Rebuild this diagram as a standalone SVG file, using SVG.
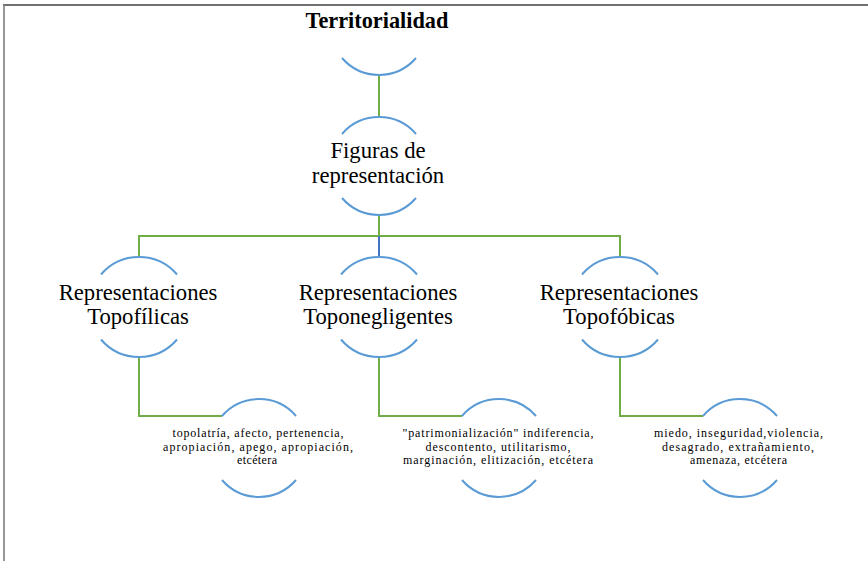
<svg xmlns="http://www.w3.org/2000/svg" width="868" height="561" viewBox="0 0 868 561">
<style>
.arc{fill:none;stroke:#5B9BD5;stroke-width:2}
.con{fill:none;stroke:#70AD47;stroke-width:2}
.t{font-family:"Liberation Serif","Times New Roman","DejaVu Serif",serif;fill:#000;text-anchor:middle}
.l2{font-size:22.7px}
.l3{font-size:12px}
</style>
<rect width="868" height="561" fill="#fff"/>
<g id="frame">
<line x1="3" y1="5" x2="868" y2="5" stroke="#404040" stroke-width="1.6"/>
<line x1="4" y1="5" x2="4" y2="561" stroke="#7f7f7f" stroke-width="1.6"/>
</g>
<g id="connectors">
<path class="con" d="M379 75V117"/>
<path class="con" d="M379 215V236M139 257V236H620V257"/>
<path d="M379 236V257" fill="none" stroke="#4472C4" stroke-width="2"/>
<path class="con" d="M139 357V416H222"/>
<path class="con" d="M379 357V416H462"/>
<path class="con" d="M620 357V416H703"/>
</g>
<g id="n-territorialidad">
<path class="arc" d="M342 58A49 49 0 0 0 416 58"/>
<text class="t" x="377" y="28" font-size="22.3px" font-weight="bold">Territorialidad</text>
</g>
<g id="n-figuras">
<path class="arc" d="M342 134A49 49 0 0 1 416 134M342 198A49 49 0 0 0 416 198"/>
<text class="t l2" x="378" y="158">Figuras de</text>
<text class="t l2" x="378" y="183">representación</text>
</g>
<g id="n-topofilicas">
<path class="arc" d="M101 274.5A50 50 0 0 1 177 274.5M101 339.5A50 50 0 0 0 177 339.5"/>
<text class="t l2" x="138" y="300">Representaciones</text>
<text class="t l2" x="138" y="324">Topofílicas</text>
</g>
<g id="n-toponegligentes">
<path class="arc" d="M341 274.5A50 50 0 0 1 417 274.5M341 339.5A50 50 0 0 0 417 339.5"/>
<text class="t l2" x="378" y="300">Representaciones</text>
<text class="t l2" x="378" y="324">Toponegligentes</text>
</g>
<g id="n-topofobicas">
<path class="arc" d="M582 274.5A50 50 0 0 1 658 274.5M582 339.5A50 50 0 0 0 658 339.5"/>
<text class="t l2" x="619" y="300">Representaciones</text>
<text class="t l2" x="619" y="324">Topofóbicas</text>
</g>
<g id="n-topofilicas-detalle">
<path class="arc" d="M222 416A49 49 0 0 1 296 416M222 480A49 49 0 0 0 296 480"/>
<text class="t l3" x="258" y="437" textLength="171" lengthAdjust="spacing">topolatría, afecto, pertenencia,</text>
<text class="t l3" x="258" y="450.5" textLength="190" lengthAdjust="spacing">apropiación, apego, apropiación,</text>
<text class="t l3" x="257" y="464" textLength="40" lengthAdjust="spacing">etcétera</text>
</g>
<g id="n-toponegligentes-detalle">
<path class="arc" d="M462 416A49 49 0 0 1 536 416M462 480A49 49 0 0 0 536 480"/>
<text class="t l3" x="498" y="437" textLength="191" lengthAdjust="spacing">"patrimonialización" indiferencia,</text>
<text class="t l3" x="498" y="450.5" textLength="145" lengthAdjust="spacing">descontento, utilitarismo,</text>
<text class="t l3" x="498" y="464" textLength="190" lengthAdjust="spacing">marginación, elitización, etcétera</text>
</g>
<g id="n-topofobicas-detalle">
<path class="arc" d="M703 416A49 49 0 0 1 777 416M703 480A49 49 0 0 0 777 480"/>
<text class="t l3" x="738.5" y="437" textLength="169" lengthAdjust="spacing">miedo, inseguridad,violencia,</text>
<text class="t l3" x="738" y="450.5" textLength="152" lengthAdjust="spacing">desagrado, extrañamiento,</text>
<text class="t l3" x="738.5" y="464" textLength="97" lengthAdjust="spacing">amenaza, etcétera</text>
</g>
</svg>
